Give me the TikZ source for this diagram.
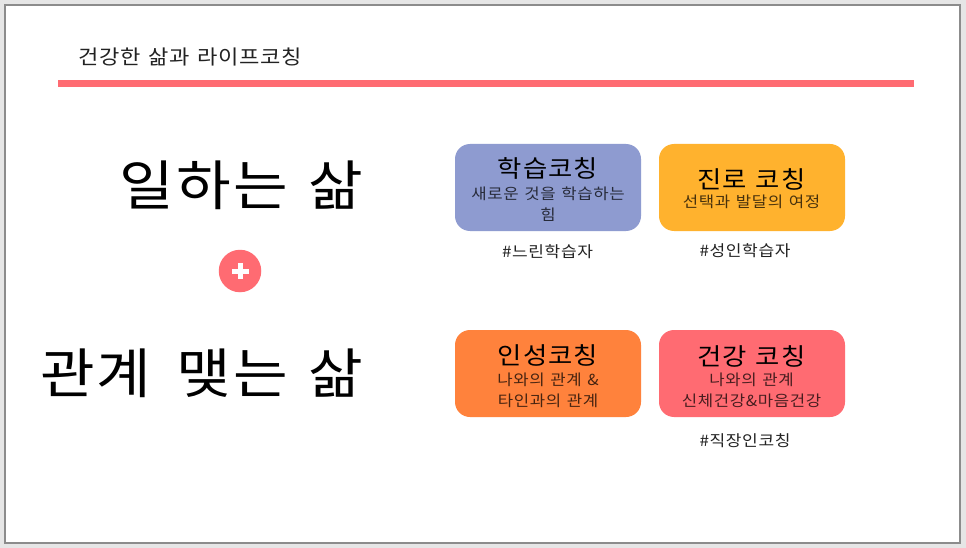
\documentclass[tikz,border=0pt]{standalone}
\usepackage{fontspec}
\setmainfont{Noto Sans CJK KR}[FakeStretch=1.1,LetterSpace=4,WordSpace=1.3]
\definecolor{pagebg}{HTML}{E6E6E6}
\definecolor{frameline}{HTML}{8C8C8C}
\definecolor{accent}{HTML}{FF6B72}
\definecolor{boxblue}{HTML}{8E9BD0}
\definecolor{boxyellow}{HTML}{FFB22E}
\definecolor{boxorange}{HTML}{FF823C}
\definecolor{inktext}{HTML}{222222}
\tikzset{
  card/.style={draw=none,rounded corners=15pt,minimum width=186pt,minimum height=87pt,inner sep=0pt,anchor=center},
  cardhead/.style={font=\fontsize{24}{24}\selectfont,text=black,anchor=center,inner sep=0pt},
  cardsub/.style={font=\fontsize{15.2}{21}\selectfont,text=black,text opacity=.72,align=center,anchor=center,inner sep=0pt},
  tagtext/.style={font=\fontsize{15.5}{18}\selectfont,text=inktext,anchor=center,inner sep=0pt},
  bigtext/.style={font=\fontsize{54}{60}\selectfont,text=black,anchor=east,inner sep=0pt},
}
\begin{document}
\begin{tikzpicture}[x=1pt,y=-1pt]
\useasboundingbox (0,0) rectangle (966,548);
\fill[pagebg] (0,0) rectangle (966,548);
\draw[frameline,fill=white,line width=1.5pt] (5,5) rectangle (960,543);
\node[font=\fontsize{20.1}{22}\selectfont,text=inktext,anchor=west,inner sep=0pt] (title) at (78,57) {건강한 삶과 라이프코칭};
\fill[accent] (58,80.5) rectangle (914,87.5);
\node[bigtext] (work) at (363,185) {일하는 삶};
\node[bigtext] (rel) at (363,373) {관계\hspace{5pt} 맺는 삶};
\node[circle,fill=accent,minimum size=42.5pt,inner sep=0pt] (plus) at (240,271) {};
\fill[white] (232,269) rectangle (248.5,273.5);
\fill[white] (238,263) rectangle (242.5,279);
\node[card,fill=boxblue] (b1) at (548,187.5) {};
\node[card,fill=boxyellow] (b2) at (752,187.5) {};
\node[card,fill=boxorange] (b3) at (548,373.5) {};
\node[card,fill=accent] (b4) at (752,373.5) {};
\node[cardhead] (h1) at (548,168) {학습코칭};
\node[cardsub] (s1) at (548,204) {새로운 것을 학습하는\\힘};
\node[cardhead] (h2) at (751.5,179) {진로 코칭};
\node[cardsub] (s2) at (751.5,202) {선택과 발달의 여정};
\node[cardhead] (h3) at (548,355) {인성코칭};
\node[cardsub] (s3) at (548,390) {나와의 관계 \&\\타인과의 관계};
\node[cardhead] (h4) at (751.5,356) {건강 코칭};
\node[cardsub] (s4) at (751.5,390) {나와의 관계\\신체건강\&마음건강};
\node[tagtext] (t1) at (547.5,252) {\#느린학습자};
\node[tagtext] (t2) at (745,251) {\#성인학습자};
\node[tagtext] (t3) at (745,441) {\#직장인코칭};
\end{tikzpicture}
\end{document}
